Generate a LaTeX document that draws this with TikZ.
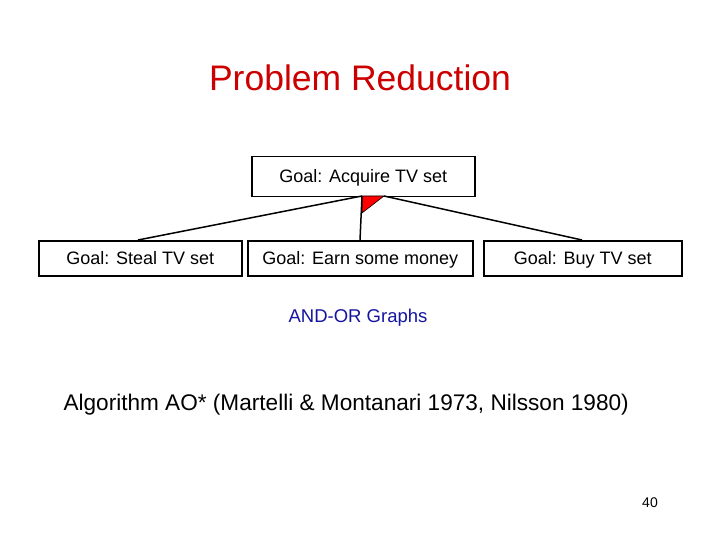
\documentclass[tikz,border=0pt]{standalone}
\usepackage{fontspec}
\setmainfont{Liberation Sans}
\definecolor{titlered}{RGB}{204,0,0}
\definecolor{andblue}{RGB}{20,20,160}
\begin{document}
\begin{tikzpicture}[x=1pt,y=-1pt,
  goal/.style={draw,line width=1.5pt,inner sep=0pt,anchor=north west,text height=2.2ex,text depth=0pt,font=\fontsize{18}{20}\selectfont},
  link/.style={line width=1.5pt}]
\useasboundingbox (0,0) rectangle (720,540);
\node[text=titlered,font=\fontsize{35.5}{38}\selectfont] (title) at (360,78) {Problem Reduction};
\node[goal,minimum width=223pt,minimum height=40pt] (top) at (251,156) {Goal: Acquire TV set};
\node[goal,minimum width=203pt,minimum height=35pt] (steal) at (38,240) {Goal: Steal TV set};
\node[goal,minimum width=225pt,minimum height=35pt] (earn) at (247,240) {Goal: Earn some money};
\node[goal,minimum width=198pt,minimum height=35pt] (buy) at (483,240) {Goal: Buy TV set};
\coordinate (a) at (362,196);
\coordinate (b) at (384,196);
\coordinate (c) at (362,213);
\fill[red,draw=black,line width=0.6pt] (a) -- (b) -- (c) -- cycle;
\draw[link] (a) -- (steal.north west -| 138,0);
\draw[link] (a) -- (360,240) coordinate (em);
\draw[link] (b) -- (582,240) coordinate (bm);
\node[text=andblue,font=\fontsize{18.5}{20}\selectfont] (andor) at (358,318) {AND-OR Graphs};
\node[anchor=west,font=\fontsize{22.6}{25}\selectfont] (algo) at (60,405) {Algorithm AO* (Martelli \& Montanari 1973, Nilsson 1980)};
\node[font=\fontsize{14}{16}\selectfont] (num) at (650,503) {40};
\end{tikzpicture}
\end{document}
